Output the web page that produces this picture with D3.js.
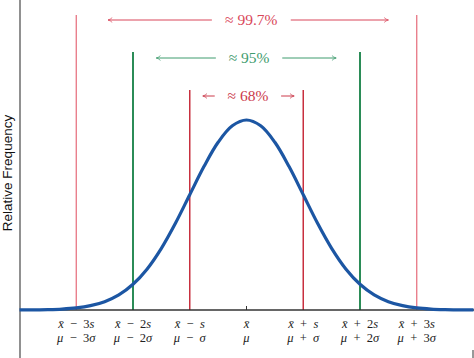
<!DOCTYPE html>
<html><head><meta charset="utf-8">
<script src="https://cdn.jsdelivr.net/npm/d3@7"></script>
<style>html,body{margin:0;padding:0;background:#fff;}svg{display:block;}
.serif{font-family:"Liberation Serif","Times New Roman",Times,serif;}
</style>
</head><body>
<svg id="c" width="474" height="358"></svg>
<script>
// Standard-deviation positions (in σ units) sampled along the curve
const curveX = [-4,-3.75,-3.5,-3.25,-3,-2.75,-2.5,-2.25,-2,-1.75,-1.5,-1.25,-1,-0.75,-0.5,-0.25,0,0.25,0.5,0.75,1,1.25,1.5,1.75,2,2.25,2.5,2.75,3,3.25,3.5,3.75,4];
// Relative frequency
const curveY = [0.0001,0.0004,0.0009,0.002,0.0044,0.0091,0.0175,0.0317,0.054,0.0863,0.1295,0.1826,0.242,0.3011,0.3521,0.3867,0.3989,0.3867,0.3521,0.3011,0.242,0.1826,0.1295,0.0863,0.054,0.0317,0.0175,0.0091,0.0044,0.002,0.0009,0.0004,0.0001];
// Tick positions and two-line labels
const tickPos = [-3,-2,-1,0,1,2,3];
const tickTop = [["x̄","\u2002−\u20023","s"],["x̄","\u2002−\u20022","s"],["x̄","\u2002−\u2002","s"],["x̄","",""],["x̄","\u2002+\u2002","s"],["x̄","\u2002+\u20022","s"],["x̄","\u2002+\u20023","s"]];
const tickBot = [["μ","\u2002−\u20023","σ"],["μ","\u2002−\u20022","σ"],["μ","\u2002−\u2002","σ"],["μ","",""],["μ","\u2002+\u2002","σ"],["μ","\u2002+\u20022","σ"],["μ","\u2002+\u20023","σ"]];
// Intervals
const bandK = [3, 2, 1];
const bandLabel = ["≈ 99.7%", "≈ 95%", "≈ 68%"];

const svg = d3.select("#c");
const x = d3.scaleLinear().domain([-4, 4]).range([19.5, 473.5]);
const y = d3.scaleLinear().domain([0, 0.3989]).range([310, 120]);

const lineColors = ["#e56a79", "#2b8c57", "#c8303f"];
const lineWidths = [1.2, 2, 1.5];
const textColors = ["#d9475a", "#3f9c6e", "#cc3a4b"];
const lineTops = [15, 52, 90];
const rowY = [20, 58, 96];
// arrow geometry (in σ units from center): [left outer, left inner, right inner, right outer]
const arrowGeom = [[-2.44, -0.61, 0.78, 2.5], [-1.59, -0.54, 0.63, 1.58], [-0.77, -0.56, 0.61, 0.84]];

// vertical interval lines
bandK.forEach((k, i) => {
  [-k, k].forEach(s => {
    svg.append("line").attr("x1", x(s)).attr("x2", x(s))
      .attr("y1", lineTops[i]).attr("y2", y(0))
      .attr("stroke", lineColors[i]).attr("stroke-width", lineWidths[i]);
  });
});

// axes frame
svg.append("line").attr("x1", 20).attr("x2", 20).attr("y1", 0).attr("y2", 358)
  .attr("stroke", "#555").attr("stroke-width", 1.3);
svg.append("line").attr("x1", 20).attr("x2", 474).attr("y1", y(0)).attr("y2", y(0))
  .attr("stroke", "#333").attr("stroke-width", 1.3);
svg.append("line").attr("x1", 473).attr("x2", 473).attr("y1", 350).attr("y2", 358)
  .attr("stroke", "#333").attr("stroke-width", 1);

// center tick
svg.append("line").attr("x1", x(0)).attr("x2", x(0)).attr("y1", y(0) - 4).attr("y2", y(0))
  .attr("stroke", "#333").attr("stroke-width", 1);

// curve
const pts = curveX.map((v, i) => [v, curveY[i]]);
svg.append("path").datum(pts)
  .attr("d", d3.line().x(d => x(d[0])).y(d => y(d[1])).curve(d3.curveCatmullRom))
  .attr("fill", "none").attr("stroke", "#1c56a3").attr("stroke-width", 3.2);

// arrows and labels
const defs = svg.append("defs");
textColors.forEach((c, i) => {
  defs.append("marker").attr("id", "ah" + i).attr("viewBox", "0 0 10 10")
    .attr("refX", 9).attr("refY", 5).attr("markerWidth", 6).attr("markerHeight", 6)
    .attr("markerUnits", "userSpaceOnUse").attr("orient", "auto")
    .append("path").attr("d", "M2,1 Q5,4 9,5 Q5,6 2,9").attr("fill", "none")
    .attr("stroke", c).attr("stroke-width", 1.2);
});
bandK.forEach((k, i) => {
  const cy = rowY[i], g = arrowGeom[i];
  [[g[1], g[0]], [g[2], g[3]]].forEach(([a, b]) => {
    svg.append("line")
      .attr("x1", x(a)).attr("x2", x(b))
      .attr("y1", cy).attr("y2", cy)
      .attr("stroke", textColors[i]).attr("stroke-width", 1)
      .attr("marker-end", `url(#ah${i})`);
  });
  svg.append("text").attr("class", "serif")
    .attr("x", (x(g[1]) + x(g[2])) / 2).attr("y", cy + 5)
    .attr("text-anchor", "middle")
    .attr("font-size", 15.5).attr("fill", textColors[i])
    .text(bandLabel[i]);
});

// tick labels
function mathText(parts, ty, xp) {
  const t = svg.append("text").attr("class", "serif").attr("x", xp).attr("y", ty)
    .attr("text-anchor", "middle")
    .attr("font-size", 12.5).attr("fill", "#222");
  t.append("tspan").attr("font-style", "italic").text(parts[0]);
  if (parts[1]) t.append("tspan").text(parts[1]);
  if (parts[2]) t.append("tspan").attr("font-style", "italic").text(parts[2]);
}
tickPos.forEach((p, i) => {
  mathText(tickTop[i], 328, x(p));
  mathText(tickBot[i], 342, x(p));
});

// y label
svg.append("text").attr("transform", "translate(12,173) rotate(-90)")
  .attr("text-anchor", "middle")
  .attr("font-family", "'Liberation Sans',Arial,sans-serif")
  .attr("font-size", 13.5).attr("fill", "#111")
  .text("Relative Frequency");
</script>
</body></html>
